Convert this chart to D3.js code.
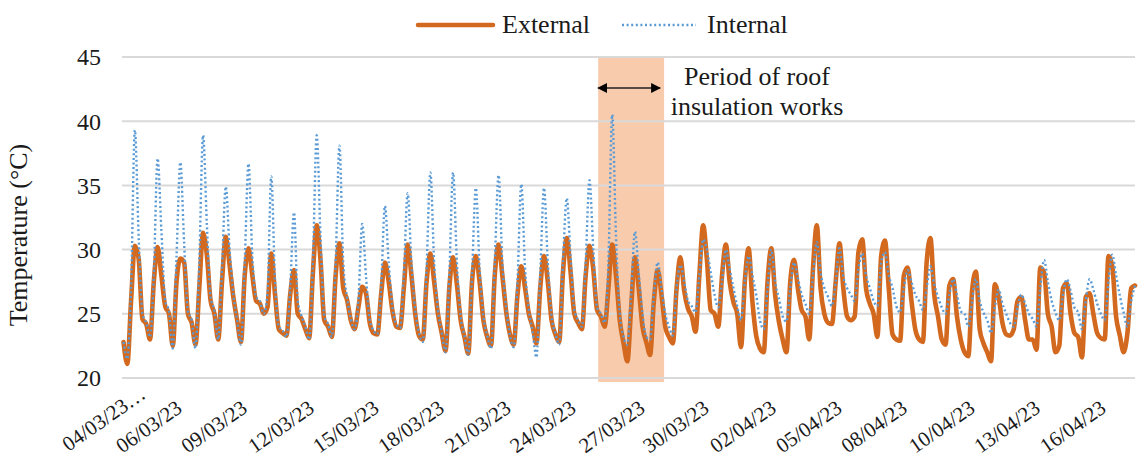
<!DOCTYPE html>
<html><head><meta charset="utf-8">
<script src="https://cdn.jsdelivr.net/npm/d3@7"></script>
<style>
html,body{margin:0;padding:0;background:#fff;}
svg{display:block;}
text{font-family:"Liberation Serif","Times New Roman",serif;fill:#1a1a1a;}
</style></head>
<body><svg id="c" width="1139" height="457"></svg>
<script>
// 4-hourly samples (02h,06h,10h,14h,18h,22h), one row per day, from 04/03/23
const external = [
 22.8,21.1,26.0,30.3,29.3,24.6,
 24.2,23.0,27.5,30.2,28.0,25.6,
 25.0,22.5,27.5,29.3,29.0,25.0,
 24.3,22.6,27.0,31.3,29.6,26.0,
 25.0,23.0,27.5,31.0,28.8,26.3,
 24.5,22.8,28.0,30.1,28.0,26.0,
 25.8,25.0,25.5,29.7,26.5,23.8,
 23.5,23.3,26.5,28.4,25.0,24.6,
 23.8,23.1,28.2,31.9,29.2,24.5,
 24.0,23.2,28.0,30.5,27.0,26.1,
 24.5,23.8,25.5,27.1,26.6,24.3,
 23.5,23.4,26.5,29.0,27.5,25.2,
 24.0,23.9,27.0,30.4,28.0,25.0,
 23.3,23.0,27.5,29.7,27.5,25.0,
 23.5,22.1,27.0,29.4,27.3,24.5,
 23.2,21.9,27.5,29.5,27.5,24.5,
 23.2,22.5,28.0,30.4,28.0,25.2,
 23.4,22.6,26.5,28.7,27.0,25.0,
 24.0,22.7,27.0,29.5,27.5,24.5,
 23.4,22.8,28.2,30.9,28.3,25.0,
 24.3,23.8,28.0,30.3,28.5,25.3,
 24.8,24.0,27.0,30.4,28.0,24.5,
 22.7,21.3,25.5,29.4,27.0,24.0,
 22.8,21.8,26.0,28.4,26.5,24.0,
 23.2,22.7,27.0,29.4,26.8,25.4,
 24.8,23.6,28.0,31.9,29.2,25.3,
 25.0,24.0,28.0,30.4,27.5,25.9,
 25.0,22.4,27.5,30.1,26.0,23.3,
 22.3,22.0,27.5,30.1,26.5,24.4,
 23.0,22.0,27.5,29.2,27.0,25.3,
 24.8,23.0,28.5,31.9,27.0,25.0,
 24.3,24.2,27.5,30.5,27.0,24.8,
 24.5,24.8,29.8,30.8,27.0,25.8,
 25.0,23.2,29.5,30.7,27.0,23.4,
 23.0,22.9,28.0,28.6,26.0,23.8,
 23.0,22.8,29.0,30.9,26.5,24.8,
 23.0,22.6,27.2,27.7,24.8,23.0,
 22.0,21.7,26.8,28.3,23.8,22.7,
 22.0,21.3,27.3,26.3,24.3,23.4,
 23.3,23.8,26.0,26.3,24.5,23.0,
 23.0,22.2,28.6,28.2,25.0,24.0,
 22.0,22.5,27.0,27.4,25.0,23.5,
 23.2,21.6,26.3,26.6,25.0,23.5,
 23.1,23.0,29.5,28.7,24.8,23.3,
 22.0,23.5,27.0,27.2
];
const internal = [
 22.8,21.5,27.0,39.3,31.0,25.0,
 24.3,23.2,28.0,37.1,31.5,26.0,
 25.2,22.3,29.5,36.8,30.5,25.2,
 24.5,22.3,29.0,38.9,32.0,26.3,
 25.2,23.0,28.5,34.9,30.0,26.5,
 24.5,22.6,29.0,36.7,29.5,26.3,
 26.0,25.0,26.5,35.7,27.5,24.0,
 23.7,23.2,27.0,32.9,26.0,24.8,
 24.0,23.0,29.0,38.9,31.0,24.8,
 24.2,23.2,29.0,38.1,29.0,26.3,
 24.6,23.8,26.0,32.0,28.0,24.5,
 23.7,23.4,27.0,33.4,29.0,25.5,
 24.2,23.9,28.0,34.4,29.0,25.3,
 23.5,22.8,28.5,36.0,29.0,25.3,
 23.6,22.0,28.0,36.0,29.0,24.8,
 23.3,21.8,28.0,34.8,28.5,24.8,
 23.3,22.3,29.0,35.8,29.0,25.5,
 23.3,22.4,27.5,35.1,28.5,25.3,
 23.6,21.6,28.0,34.8,29.0,24.8,
 23.5,22.6,29.0,34.0,29.5,25.3,
 24.5,24.0,29.0,35.4,30.0,25.5,
 25.0,24.3,29.0,40.5,31.0,25.0,
 23.2,22.6,26.5,31.4,28.2,25.0,
 23.2,23.0,26.5,29.0,27.0,25.0,
 24.0,23.3,27.0,28.8,27.5,26.0,
 25.6,25.1,28.0,30.8,30.0,28.2,
 26.5,25.5,27.5,30.0,28.5,27.0,
 25.6,24.5,27.5,29.5,28.0,26.5,
 24.5,23.8,27.0,30.0,27.5,26.2,
 24.8,24.4,27.0,29.0,27.8,26.5,
 25.8,25.0,28.0,30.6,28.2,27.0,
 26.3,25.6,27.5,30.1,27.9,27.0,
 26.5,26.0,28.5,29.7,28.0,27.0,
 26.0,25.6,29.0,29.8,28.0,27.0,
 25.6,25.1,27.0,28.4,27.5,26.5,
 26.0,25.3,27.0,28.7,27.3,26.3,
 25.5,25.0,26.5,27.7,26.5,25.2,
 25.0,24.0,26.0,27.7,26.0,25.1,
 24.5,23.5,25.5,26.9,25.8,25.0,
 24.3,24.0,25.5,26.5,25.8,25.0,
 24.6,24.0,27.0,29.2,27.5,26.0,
 25.1,24.5,26.5,27.7,26.8,25.5,
 25.1,23.8,26.0,27.7,26.9,25.8,
 25.0,24.5,27.5,29.6,28.0,26.4,
 25.1,24.0,26.0,27.2
];
const dateLabels = ["04/03/23…","06/03/23","09/03/23","12/03/23","15/03/23","18/03/23","21/03/23","24/03/23",
  "27/03/23","30/03/23","02/04/23","05/04/23","08/04/23","10/04/23","13/04/23","16/04/23"];
const labelIndex = [5.8,15.7,32.9,50.6,67.7,84.9,102.5,119.7,137.9,154.8,172.5,189.9,207.1,225.0,242.2,259.6];
const yTicks = [20,25,30,35,40,45];
const worksPeriod = [125.3, 142.7]; // sample index range of roof insulation works
const seriesNames = ["External","Internal"];
const annotationLines = ["Period of roof","insulation works"];
const yTitle = "Temperature (°C)";

const svg = d3.select("#c");
const colExt = "#D2691F", colInt = "#5B9BD5";
const plotL = 122, plotR = 1135;
const x = d3.scaleLinear().domain([0, external.length - 1]).range([123.5, 1135]);
const y = d3.scaleLinear().domain([20, 45]).range([378, 57]);

// shaded works period
svg.append("rect")
  .attr("x", x(worksPeriod[0])).attr("width", x(worksPeriod[1]) - x(worksPeriod[0]))
  .attr("y", y(45)).attr("height", 382 - y(45))
  .attr("fill", "#F8CBAD");

// gridlines
svg.append("g").selectAll("line").data(yTicks).join("line")
  .attr("x1", plotL).attr("x2", plotR)
  .attr("y1", d => y(d)).attr("y2", d => y(d))
  .attr("stroke", "#D9D9D9").attr("stroke-width", 2);

// y tick labels
svg.append("g").selectAll("text").data(yTicks).join("text")
  .attr("x", 101).attr("y", d => y(d)).attr("dy", "0.35em")
  .attr("text-anchor", "end").style("font-size", "24px").text(d => d);

// y title
svg.append("text").attr("transform", "translate(27,235) rotate(-90)")
  .attr("text-anchor", "middle").style("font-size", "26px").text(yTitle);

// x axis labels
const xAxis = d3.axisBottom(x).tickValues(labelIndex)
  .tickFormat((d, i) => dateLabels[i]).tickSize(0);
const gx = svg.append("g").attr("transform", "translate(0,378)").call(xAxis);
gx.select(".domain").remove();
gx.selectAll("text")
  .style("font-size", "21px").style("font-family", '"Liberation Serif","Times New Roman",serif')
  .attr("fill", "#1a1a1a")
  .attr("text-anchor", "end")
  .attr("dy", null).attr("y", 0)
  .attr("transform", (d, i) => i === 0 ? "translate(1,19) rotate(-35)" : "translate(0,33) rotate(-35)");

// lines
const lineGen = d3.line().x((d, i) => x(i)).y(d => y(d)).curve(d3.curveMonotoneX);
svg.append("path").datum(external).attr("d", lineGen)
  .attr("fill", "none").attr("stroke", colExt).attr("stroke-width", 4.6)
  .attr("stroke-linejoin", "round").attr("stroke-linecap", "round");
svg.append("path").datum(internal).attr("d", lineGen)
  .attr("fill", "none").attr("stroke", colInt).attr("stroke-width", 2.4)
  .attr("stroke-dasharray", "2 2.6");

// arrow
const defs = svg.append("defs");
defs.append("marker").attr("id", "ah").attr("viewBox", "0 0 10 10")
  .attr("refX", 9).attr("refY", 5).attr("markerWidth", 10).attr("markerHeight", 10)
  .attr("markerUnits", "userSpaceOnUse").attr("orient", "auto-start-reverse")
  .append("path").attr("d", "M0,0 L10,5 L0,10 Z").attr("fill", "#000");
svg.append("line")
  .attr("x1", x(worksPeriod[0])).attr("x2", x(worksPeriod[1]) - 4)
  .attr("y1", 88).attr("y2", 88)
  .attr("stroke", "#222").attr("stroke-width", 1.5)
  .attr("marker-start", "url(#ah)").attr("marker-end", "url(#ah)");

// annotation
svg.append("g").selectAll("text").data(annotationLines).join("text")
  .attr("x", 757).attr("y", (d, i) => 85 + i * 30)
  .attr("text-anchor", "middle").style("font-size", "26px").text(d => d);

// legend
const lg = svg.append("g");
lg.append("line").attr("x1", 418).attr("x2", 493).attr("y1", 25).attr("y2", 25)
  .attr("stroke", colExt).attr("stroke-width", 4.5).attr("stroke-linecap", "round");
lg.append("text").attr("x", 502).attr("y", 33).style("font-size", "26px").text(seriesNames[0]);
lg.append("line").attr("x1", 622).attr("x2", 696).attr("y1", 25).attr("y2", 25)
  .attr("stroke", colInt).attr("stroke-width", 2.4).attr("stroke-dasharray", "2 2.6");
lg.append("text").attr("x", 707).attr("y", 33).style("font-size", "26px").text(seriesNames[1]);
</script>
</body></html>
